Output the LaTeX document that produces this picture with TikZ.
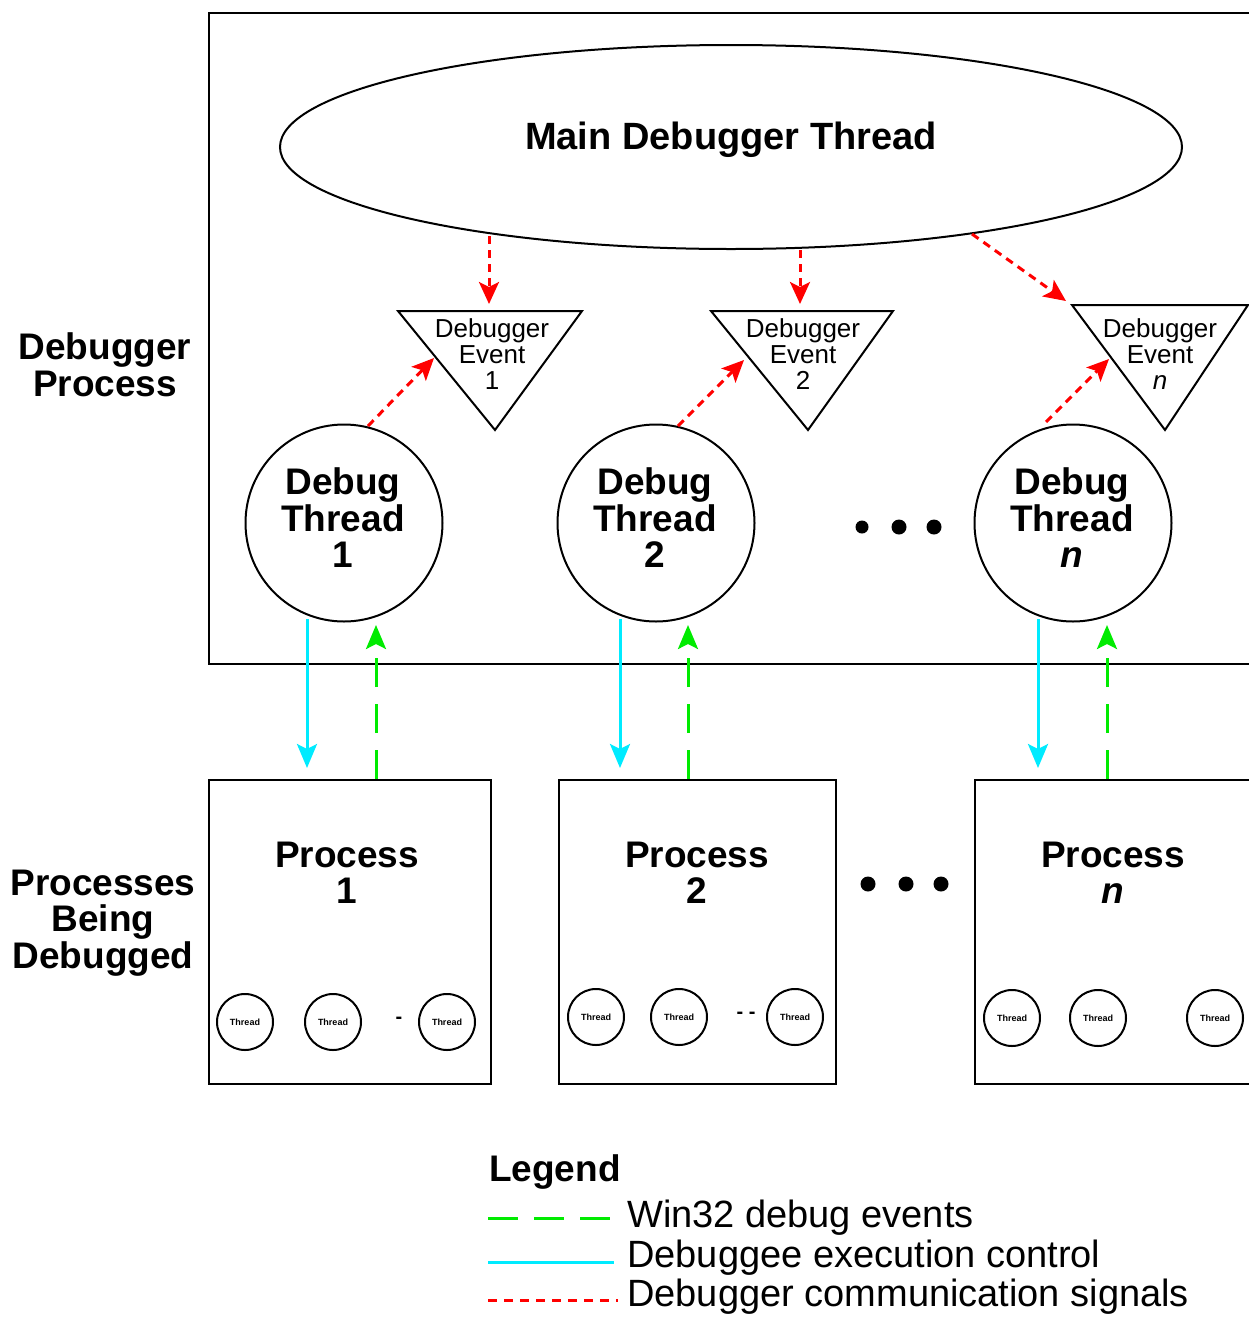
\documentclass[tikz,border=0pt]{standalone}
\usepackage{fontspec}
\setmainfont{Liberation Sans}
\usetikzlibrary{arrows.meta,shapes.geometric}
\definecolor{ccyan}{RGB}{0,235,255}
\definecolor{cgreen}{RGB}{0,235,0}
\definecolor{cred}{RGB}{255,0,0}
\begin{document}
\begin{tikzpicture}[x=1pt,y=-1pt,
  bigbold/.style={font=\fontsize{37}{36.5}\selectfont\bfseries, align=center, inner sep=0},
  evtxt/.style={font=\fontsize{26}{26}\selectfont, align=center, inner sep=0},
  legtxt/.style={font=\fontsize{38}{38}\selectfont, anchor=west, inner sep=0},
  thr/.style={circle, draw, line width=2pt, minimum size=197pt, inner sep=0},
  sthr/.style={circle, draw, line width=2pt, minimum size=56pt, inner sep=0, font=\fontsize{9}{9}\selectfont\bfseries},
  proc/.style={draw, line width=2pt, minimum height=304pt, anchor=north west, inner sep=0},
  tri/.style={draw, line width=2pt, line join=miter},
  redarr/.style={draw=cred, line width=3pt, dash pattern=on 8pt off 6pt, -{Stealth[length=22pt,width=20pt,inset=5pt]}},
  cyanarr/.style={draw=ccyan, line width=3pt, -{Stealth[length=24pt,width=20pt,inset=5pt]}},
  greenarr/.style={draw=cgreen, line width=3pt, dash pattern=on 29pt off 17pt, -{Stealth[length=24pt,width=20pt,inset=5pt]}},
  dotmark/.style={circle, fill, inner sep=0, minimum size=15pt}
]
\clip (0,0) rectangle (1249,1318);
\fill[white] (0,0) rectangle (1249,1318);

% Debugger process box
\node[draw, line width=2pt, anchor=north west, minimum width=1060pt, minimum height=651pt, inner sep=0] (dbg) at (208,12) {};

% Main debugger thread
\node[draw, ellipse, line width=2pt, minimum width=902pt, minimum height=204pt, inner sep=0] (main) at (731,147) {};
\node[bigbold, font=\fontsize{38}{38}\selectfont\bfseries] (maintxt) at (731,140) {Main Debugger Thread};

% Debugger event triangles
\draw[tri] (398,311) -- (582,311) -- (495,430) -- cycle;
\node[evtxt] (ev1) at (492,354) {Debugger\\Event\\1};
\draw[tri] (711,311) -- (893,311) -- (808,430) -- cycle;
\node[evtxt] (ev2) at (803,354) {Debugger\\Event\\2};
\draw[tri] (1072,305) -- (1248,305) -- (1165,430) -- cycle;
\node[evtxt] (evn) at (1160,354) {Debugger\\Event\\\textit{n}};

% Debug threads
\node[thr] (t1) at (344,523) {};
\node[bigbold] (t1txt) at (343,518) {Debug\\Thread\\1};
\node[thr] (t2) at (656,523) {};
\node[bigbold] (t2txt) at (655,518) {Debug\\Thread\\2};
\node[thr] (tn) at (1073,523) {};
\node[bigbold] (tntxt) at (1072,518) {Debug\\Thread\\\textit{n}};

\node[dotmark, minimum size=13pt] (d1) at (862,527) {};
\node[dotmark] (d2) at (899,527) {};
\node[dotmark] (d3) at (934,527) {};

% Left labels
\node[bigbold] (lbl1) at (105,365) {Debugger\\Process};
\node[bigbold] (lbl2) at (103,923) {Processes\\Being\\Debugged};

% Process boxes
\node[proc, minimum width=282pt] (p1) at (208,779) {};
\node[bigbold] (p1txt) at (347,873) {Process\\1};
\node[proc, minimum width=277pt] (p2) at (558,779) {};
\node[bigbold] (p2txt) at (697,873) {Process\\2};
\node[proc, minimum width=300pt] (pn) at (974,779) {};
\node[bigbold] (pntxt) at (1113,873) {Process\\\textit{n}};

\node[dotmark] (e1) at (868,884) {};
\node[dotmark] (e2) at (906,884) {};
\node[dotmark] (e3) at (941,884) {};

% small thread circles
\node[sthr] (s11) at (245,1022) {Thread};
\node[sthr] (s12) at (333,1022) {Thread};
\node[sthr] (s13) at (447,1022) {Thread};
\node[font=\fontsize{20}{20}\selectfont\bfseries] (g1) at (399,1020) {-};
\node[sthr] (s21) at (596,1017) {Thread};
\node[sthr] (s22) at (679,1017) {Thread};
\node[sthr] (s23) at (795,1017) {Thread};
\node[font=\fontsize{20}{20}\selectfont\bfseries] (g2) at (746,1015) {- -};
\node[sthr] (sn1) at (1012,1018) {Thread};
\node[sthr] (sn2) at (1098,1018) {Thread};
\node[sthr] (sn3) at (1215,1018) {Thread};

% connector end points
\coordinate (m1) at (489,236);  \coordinate (k1) at (489,304);
\coordinate (m2) at (800,250);  \coordinate (k2) at (800,304);
\coordinate (mn) at (972,234);  \coordinate (kn) at (1066,301);
\coordinate (c1) at (368,426);  \coordinate (q1) at (434,358);
\coordinate (c2) at (678,426);  \coordinate (q2) at (744,360);
\coordinate (cn) at (1046,422); \coordinate (qn) at (1109,359);

\draw[redarr] (m1) -- (k1);
\draw[redarr] (m2) -- (k2);
\draw[redarr] (mn) -- (kn);
\draw[redarr] (c1) -- (q1);
\draw[redarr] (c2) -- (q2);
\draw[redarr] (cn) -- (qn);

\coordinate (a1) at (307,619);  \coordinate (b1) at (307,768);
\coordinate (a2) at (620,619);  \coordinate (b2) at (620,768);
\coordinate (an) at (1038,619); \coordinate (bn) at (1038,768);
\draw[cyanarr] (a1) -- (b1);
\draw[cyanarr] (a2) -- (b2);
\draw[cyanarr] (an) -- (bn);

\coordinate (u1) at (376,779);  \coordinate (v1) at (376,625);
\coordinate (u2) at (688,779);  \coordinate (v2) at (688,625);
\coordinate (un) at (1107,779); \coordinate (vn) at (1107,625);
\draw[greenarr] (u1) -- (v1);
\draw[greenarr] (u2) -- (v2);
\draw[greenarr] (un) -- (vn);

% Legend
\node[bigbold, anchor=west] (leg) at (489,1172) {Legend};
\draw[cgreen, line width=3pt, dash pattern=on 30pt off 16pt] (488,1218) -- (614,1218);
\node[legtxt] (l1) at (627,1218) {Win32 debug events};
\draw[ccyan, line width=3pt] (488,1262) -- (614,1262);
\node[legtxt] (l2) at (627,1258) {Debuggee execution control};
\draw[cred, line width=3pt, dash pattern=on 9pt off 7pt] (488,1300) -- (618,1300);
\node[legtxt] (l3) at (627,1297) {Debugger communication signals};
\end{tikzpicture}
\end{document}
